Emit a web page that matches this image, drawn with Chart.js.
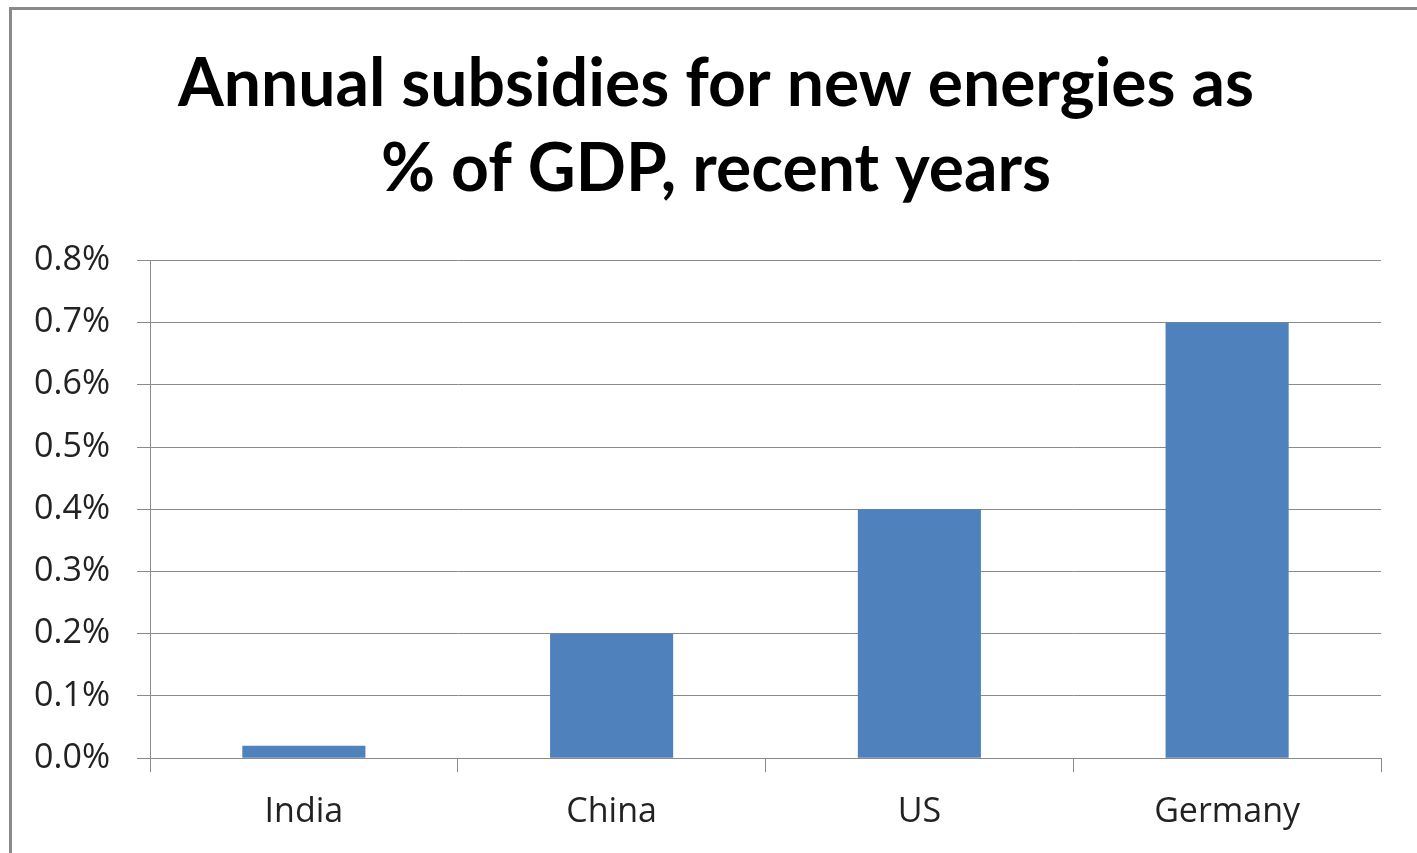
<!DOCTYPE html>
<html lang="en">
<head>
  <meta charset="UTF-8" />
  <title>Annual subsidies for new energies</title>
  <script src="https://cdn.jsdelivr.net/npm/chart.js"></script>
  <style>
    html, body { margin: 0; padding: 0; background: #fff; overflow: hidden; }
    #frame { position: absolute; left: 9px; top: 7px; width: 1420px; height: 860px; border: 3px solid #8a8a8a; box-sizing: border-box; }
    #wrap { position: absolute; left: 0; top: 0; width: 1417px; height: 853px; }
  </style>
</head>
<body>
  <div id="frame"></div>
  <div id="wrap"><canvas id="barChart"></canvas></div>

  <script>
    // values (% of GDP)
    const countries = ["India", "China", "US", "Germany"];
    const subsidies = [0.02, 0.2, 0.4, 0.7];
    const titleLines = ["Annual subsidies for new energies as", "% of GDP, recent years"];

    // the original title sits a bit right of the canvas centre
    const shiftTitle = {
      id: 'shiftTitle',
      afterLayout(chart) {
        if (chart.titleBlock) chart.titleBlock.left = 51;
      }
    };

    new Chart(document.getElementById("barChart"), {
      type: 'bar',
      data: {
        labels: countries,
        datasets: [{
          data: subsidies,
          backgroundColor: '#4F81BD',
          barPercentage: 0.4,
          categoryPercentage: 1
        }]
      },
      plugins: [shiftTitle],
      options: {
        responsive: true,
        maintainAspectRatio: false,
        animation: false,
        layout: { padding: { left: 0, right: 36, top: 42, bottom: 0 } },
        plugins: {
          legend: { display: false },
          tooltip: { enabled: false },
          title: {
            display: true,
            text: titleLines,
            color: '#000',
            font: { family: 'Lato', size: 66, weight: 'bold', lineHeight: 1.29 },
            padding: { top: 0, bottom: 48 }
          }
        },
        scales: {
          x: {
            grid: { offset: true, drawOnChartArea: false, color: '#8a8a8a', tickLength: 14 },
            border: { color: '#8a8a8a' },
            ticks: { color: '#222', font: { family: 'Open Sans', size: 34 }, padding: 20 }
          },
          y: {
            min: 0,
            max: 0.8,
            afterFit: s => { s.width = 150; },
            grid: { color: '#8a8a8a', tickLength: 13 },
            border: { color: '#8a8a8a' },
            ticks: {
              stepSize: 0.1,
              color: '#222',
              padding: 27,
              font: { family: 'Open Sans', size: 34 },
              callback: v => v.toFixed(1) + '%'
            }
          }
        }
      }
    });
  </script>
</body>
</html>
